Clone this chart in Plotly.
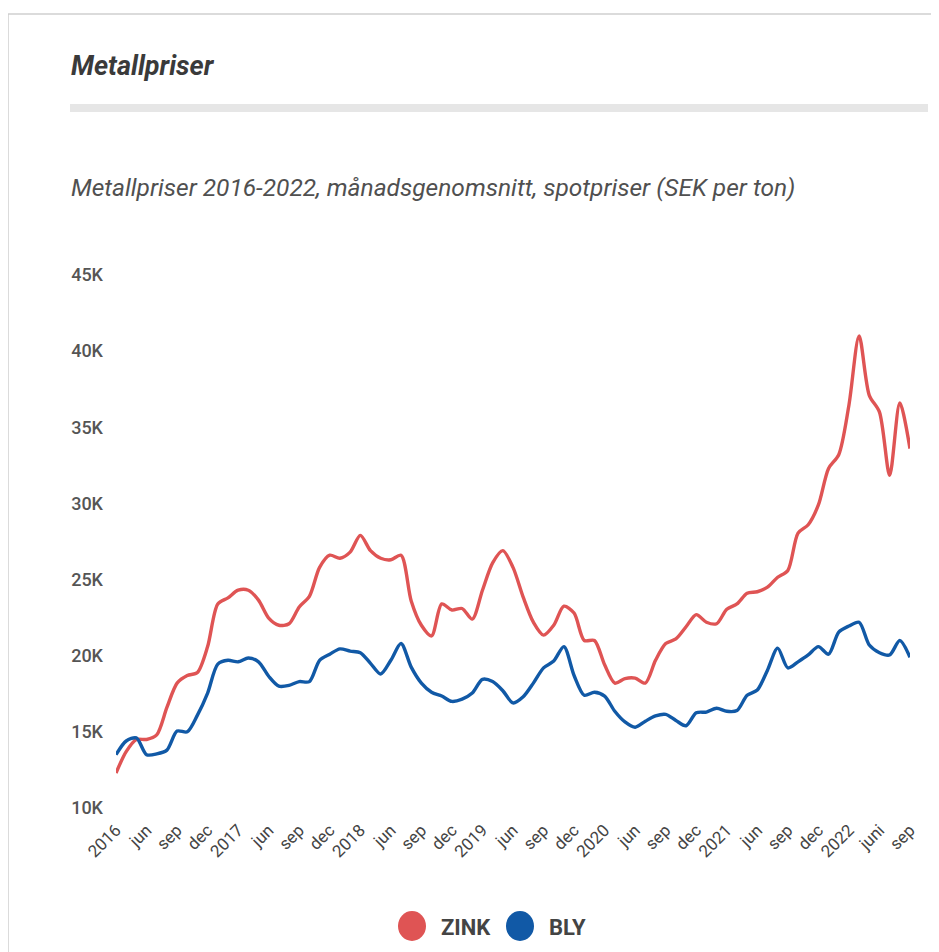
import plotly.graph_objects as go

# Monthly averages, SEK per ton
zink = [12300, 13700, 14500, 14500, 14800, 16600, 18200, 18700, 18900, 20600,
        23400, 23800, 24300, 24300, 23650, 22470, 22000, 22100, 23200, 23900,
        25800, 26600, 26400, 26800, 27900, 26900, 26400, 26300, 26600, 23600,
        22000, 21300, 23400, 23000, 23100, 22400, 24300, 26100, 26900, 25800,
        23850, 22200, 21350, 22000, 23250, 22800, 21000, 21000, 19400, 18200,
        18500, 18530, 18200, 19700, 20800, 21100, 21900, 22700, 22200, 22100,
        23050, 23400, 24100, 24200, 24500, 25150, 25600, 28050, 28600, 29900,
        32300, 33200, 36450, 41000, 37100, 36000, 31850, 36600, 33600]

bly = [13500, 14400, 14600, 13500, 13550, 13800, 15050, 15000, 16100, 17550,
       19450, 19700, 19600, 19850, 19600, 18650, 18000, 18050, 18300, 18300,
       19700, 20100, 20450, 20300, 20200, 19500, 18800, 19700, 20800, 19250,
       18200, 17600, 17350, 17000, 17150, 17550, 18450, 18300, 17700, 16900,
       17300, 18200, 19200, 19650, 20600, 18700, 17400, 17600, 17350, 16350,
       15650, 15300, 15700, 16050, 16150, 15750, 15400, 16250, 16300, 16550,
       16350, 16400, 17400, 17750, 19050, 20500, 19200, 19600, 20050, 20600,
       20100, 21550, 21950, 22200, 20700, 20200, 20050, 21000, 19900]

x_labels = ["2016", "jun", "sep", "dec", "2017", "jun", "sep", "dec",
            "2018", "jun", "sep", "dec", "2019", "jun", "sep", "dec",
            "2020", "jun", "sep", "dec", "2021", "jun", "sep", "dec",
            "2022", "juni", "sep"]
y_ticks = [10000, 15000, 20000, 25000, 30000, 35000, 40000, 45000]
y_labels = ["10K", "15K", "20K", "25K", "30K", "35K", "40K", "45K"]
series_names = ["ZINK", "BLY"]
colors = ["#df5454", "#1159a6"]

idx = list(range(len(zink)))
tick_pos = idx[::3]

W, H = 939, 952
OFF = 8  # page body margin offset
L = 116 - OFF
T = 275 - OFF
B = H - (808 - OFF)
R = W - (910 - OFF)
pw, ph = W - L - R, H - T - B


def px(xpix):
    return (xpix - OFF - L) / pw


def py(ypix):
    return (H - B - (ypix - OFF)) / ph


fig = go.Figure()
for name, vals, col in zip(series_names, [zink, bly], colors):
    fig.add_trace(go.Scatter(
        x=idx, y=vals, name=name, mode="lines",
        line=dict(color=col, width=3.4, shape="spline", smoothing=0.8),
        showlegend=False,
    ))

font_family = "Roboto, 'Open Sans', sans-serif"

annotations = [
    dict(text="<b><i>Metallpriser</i></b>", x=px(69), y=py(66), xref="paper", yref="paper",
         xanchor="left", yanchor="middle", showarrow=False,
         font=dict(family=font_family, size=27, color="#3a3a3a")),
    dict(text="<i>Metallpriser 2016-2022, månadsgenomsnitt, spotpriser (SEK per ton)</i>",
         x=px(69), y=py(187), xref="paper", yref="paper",
         xanchor="left", yanchor="middle", showarrow=False,
         font=dict(family=font_family, size=24.5, color="#505050")),
]
shapes = [
    dict(type="rect", xref="paper", yref="paper", x0=px(8), x1=px(990), y0=py(1000), y1=py(14),
         line=dict(color="#cfcfcf", width=1.5), fillcolor="rgba(0,0,0,0)", layer="below"),
    dict(type="rect", xref="paper", yref="paper", x0=px(70), x1=px(928), y0=py(112), y1=py(104),
         line=dict(width=0), fillcolor="#e6e6e6", layer="below"),
]

leg_x = [412, 520]
for name, col, cx in zip(series_names, colors, leg_x):
    shapes.append(dict(type="circle", xref="paper", yref="paper",
                       xsizemode="pixel", ysizemode="pixel",
                       xanchor=px(cx), yanchor=py(926),
                       x0=-14, x1=14, y0=-15, y1=15,
                       fillcolor=col, line=dict(width=0)))
    annotations.append(dict(text="<b>" + name + "</b>", x=px(cx + 27), y=py(927),
                            xref="paper", yref="paper", xanchor="left", yanchor="middle",
                            showarrow=False,
                            font=dict(family=font_family, size=22, color="#444444")))

fig.update_layout(
    width=W, height=H,
    margin=dict(l=L, r=R, t=T, b=B, autoexpand=False),
    paper_bgcolor="white", plot_bgcolor="white",
    font=dict(family=font_family),
    annotations=annotations, shapes=shapes,
    showlegend=False,
    xaxis=dict(range=[0, len(zink) - 1], tickmode="array", tickvals=tick_pos, ticktext=x_labels,
               tickangle=-45, showgrid=False, zeroline=False, showline=False,
               tickfont=dict(family=font_family, size=17, color="#444444"),
               ticks="", ticklabelstandoff=8, automargin=False),
    yaxis=dict(range=[10000, 45000], tickmode="array", tickvals=y_ticks, ticktext=y_labels,
               showgrid=False, zeroline=False, showline=False,
               tickfont=dict(family=font_family, size=18, color="#555555", weight=500),
               ticks="", ticklabelstandoff=12, automargin=False),
)

fig.write_html("out.html")
